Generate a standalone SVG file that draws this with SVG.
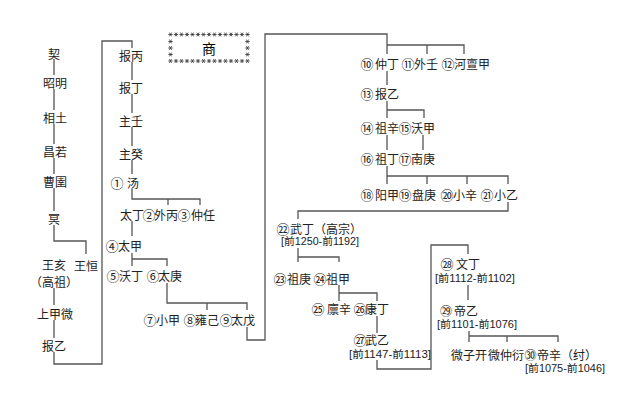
<svg xmlns="http://www.w3.org/2000/svg" width="640" height="412" viewBox="0 0 640 412">
<style>
.t{font-family:"Noto Sans CJK SC","Noto Sans CJK JP",sans-serif;font-size:12px;fill:#222;text-anchor:middle;dominant-baseline:central}
.c{font-size:13px}
.d{font-family:"Liberation Sans","Noto Sans CJK SC",sans-serif;font-size:10.5px}
.ln{fill:none;stroke:#555;stroke-width:1.3}
.ast{fill:none;stroke:#333;stroke-width:0.8}
</style>
<defs>
<path id="a" class="ast" d="M-2.2 0H2.2M-1.1 -1.9L1.1 1.9M1.1 -1.9L-1.1 1.9"/>
</defs>
<rect width="640" height="412" fill="#fff"/>
<g id="title">
<use href="#a" x="170.5" y="34.5"/><use href="#a" x="176" y="34.5"/><use href="#a" x="181.5" y="34.5"/><use href="#a" x="187" y="34.5"/><use href="#a" x="192.5" y="34.5"/><use href="#a" x="198" y="34.5"/><use href="#a" x="203.5" y="34.5"/><use href="#a" x="209" y="34.5"/><use href="#a" x="214.5" y="34.5"/><use href="#a" x="220" y="34.5"/><use href="#a" x="225.5" y="34.5"/><use href="#a" x="231" y="34.5"/><use href="#a" x="236.5" y="34.5"/><use href="#a" x="242" y="34.5"/><use href="#a" x="247.5" y="34.5"/>
<use href="#a" x="170.5" y="61"/><use href="#a" x="176" y="61"/><use href="#a" x="181.5" y="61"/><use href="#a" x="187" y="61"/><use href="#a" x="192.5" y="61"/><use href="#a" x="198" y="61"/><use href="#a" x="203.5" y="61"/><use href="#a" x="209" y="61"/><use href="#a" x="214.5" y="61"/><use href="#a" x="220" y="61"/><use href="#a" x="225.5" y="61"/><use href="#a" x="231" y="61"/><use href="#a" x="236.5" y="61"/><use href="#a" x="242" y="61"/><use href="#a" x="247.5" y="61"/>
<use href="#a" x="170.5" y="41.5"/><use href="#a" x="170.5" y="48"/><use href="#a" x="170.5" y="54.5"/>
<use href="#a" x="247.5" y="41.5"/><use href="#a" x="247.5" y="48"/><use href="#a" x="247.5" y="54.5"/>
<text class="t" x="209" y="48" style="font-size:14px;fill:#000">商</text>
</g>
<g id="connectors" class="ln">
<path d="M54 59V75M54 89V110M54 124V144M54 158V174M54 188V211M54 225V241H86V254M54 288V305M54 320V338M54 352V364H102V41H132V48"/>
<path d="M132 62V80M132 94V113M132 127V146M132 160V174M132 189V199H200V205M168 199V205M132 221V236M132 253V266M132 259H167V266M167 283V303H247V310M207 303V310M247 327V340H265V34H387V54M387 45H464V54M427 45V54"/>
<path d="M387 71V85M387 101V118M387 110H424V118M387 135V150M423 135V150M387 166V184M387 176H508V184M427 176V184M467 176V184M508 202V211H298V219M298 248V262M298 257H339V262M339 285V301M339 293H377V301M377 316V333M377 360V369H431V245H468V254M468 285V300M469 331V342M469 336H558V342M507 336V342"/>
</g>
<g id="n-qi"><text class="t" x="54" y="53">契</text></g>
<g id="n-zhaoming"><text class="t" x="55" y="82">昭明</text></g>
<g id="n-xiangtu"><text class="t" x="55" y="117">相土</text></g>
<g id="n-changruo"><text class="t" x="55" y="151">昌若</text></g>
<g id="n-caoyu"><text class="t" x="55" y="181">曹圉</text></g>
<g id="n-ming"><text class="t" x="54" y="218">冥</text></g>
<g id="n-wanghai"><text class="t"><tspan x="54" y="264">王亥</tspan><tspan x="54" y="280.5">（高祖）</tspan></text></g>
<g id="n-wangheng"><text class="t" x="86" y="265">王恒</text></g>
<g id="n-shangjiawei"><text class="t" x="55" y="313">上甲微</text></g>
<g id="n-baoyi0"><text class="t" x="54" y="345">报乙</text></g>
<g id="n-baobing"><text class="t" x="131" y="55">报丙</text></g>
<g id="n-baoding"><text class="t" x="131" y="87">报丁</text></g>
<g id="n-zhuren"><text class="t" x="131" y="120">主壬</text></g>
<g id="n-zhugui"><text class="t" x="131" y="153">主癸</text></g>
<g id="n-tang"><text class="t" y="182"><tspan class="c" x="117">①</tspan><tspan x="133">汤</tspan></text></g>
<g id="n-taiding"><text class="t" x="132" y="214">太丁</text></g>
<g id="n-waibing"><text class="t" y="214"><tspan class="c" x="149">②</tspan><tspan x="166">外丙</tspan></text></g>
<g id="n-zhongren"><text class="t" y="214"><tspan class="c" x="184">③</tspan><tspan x="203">仲任</tspan></text></g>
<g id="n-taijia"><text class="t" y="245"><tspan class="c" x="112">④</tspan><tspan x="130">太甲</tspan></text></g>
<g id="n-woding"><text class="t" y="275"><tspan class="c" x="113">⑤</tspan><tspan x="131">沃丁</tspan></text></g>
<g id="n-taigeng"><text class="t" y="275"><tspan class="c" x="153">⑥</tspan><tspan x="170">太庚</tspan></text></g>
<g id="n-xiaojia"><text class="t" y="319"><tspan class="c" x="150">⑦</tspan><tspan x="168">小甲</tspan></text></g>
<g id="n-yongji"><text class="t" y="319"><tspan class="c" x="190">⑧</tspan><tspan x="207">雍己</tspan></text></g>
<g id="n-taiwu"><text class="t" y="319"><tspan class="c" x="226">⑨</tspan><tspan x="243">太戊</tspan></text></g>
<g id="n-zhongding"><text class="t" y="63"><tspan class="c" x="367">⑩</tspan><tspan x="387">仲丁</tspan></text></g>
<g id="n-wairen"><text class="t" y="63"><tspan class="c" x="408">⑪</tspan><tspan x="426">外壬</tspan></text></g>
<g id="n-hedanjia"><text class="t" y="63"><tspan class="c" x="448">⑫</tspan><tspan x="472">河亶甲</tspan></text></g>
<g id="n-baoyi"><text class="t" y="93"><tspan class="c" x="367">⑬</tspan><tspan x="387">报乙</tspan></text></g>
<g id="n-zuxin"><text class="t" y="127"><tspan class="c" x="367">⑭</tspan><tspan x="387">祖辛</tspan></text></g>
<g id="n-wojia"><text class="t" y="127"><tspan class="c" x="405">⑮</tspan><tspan x="423">沃甲</tspan></text></g>
<g id="n-zuding"><text class="t" y="158"><tspan class="c" x="367">⑯</tspan><tspan x="387">祖丁</tspan></text></g>
<g id="n-nangeng"><text class="t" y="158"><tspan class="c" x="405">⑰</tspan><tspan x="423">南庚</tspan></text></g>
<g id="n-yangjia"><text class="t" y="194"><tspan class="c" x="367">⑱</tspan><tspan x="387">阳甲</tspan></text></g>
<g id="n-pangeng"><text class="t" y="194"><tspan class="c" x="405">⑲</tspan><tspan x="424">盘庚</tspan></text></g>
<g id="n-xiaoxin"><text class="t" y="194"><tspan class="c" x="447">⑳</tspan><tspan x="465">小辛</tspan></text></g>
<g id="n-xiaoyi"><text class="t" y="194"><tspan class="c" x="487">㉑</tspan><tspan x="506">小乙</tspan></text></g>
<g id="n-wuding"><text class="t"><tspan class="c" x="283" y="227.5">㉒</tspan><tspan x="326" y="227.5">武丁（高宗）</tspan><tspan class="d" x="320" y="241" textLength="78" lengthAdjust="spacingAndGlyphs">[前1250-前1192]</tspan></text></g>
<g id="n-zugeng"><text class="t" y="278"><tspan class="c" x="280">㉓</tspan><tspan x="299">祖庚</tspan></text></g>
<g id="n-zujia"><text class="t" y="278"><tspan class="c" x="320">㉔</tspan><tspan x="338">祖甲</tspan></text></g>
<g id="n-linxin"><text class="t" y="308"><tspan class="c" x="318">㉕</tspan><tspan x="339">廪辛</tspan></text></g>
<g id="n-kangding"><text class="t" y="308"><tspan class="c" x="360">㉖</tspan><tspan x="377">康丁</tspan></text></g>
<g id="n-wuyi"><text class="t"><tspan class="c" x="360" y="338.5">㉗</tspan><tspan x="377" y="338.5">武乙</tspan><tspan class="d" x="390" y="353.5" textLength="82" lengthAdjust="spacingAndGlyphs">[前1147-前1113]</tspan></text></g>
<g id="n-wending"><text class="t"><tspan class="c" x="447" y="263">㉘</tspan><tspan x="468" y="263">文丁</tspan><tspan class="d" x="475" y="278" textLength="80" lengthAdjust="spacingAndGlyphs">[前1112-前1102]</tspan></text></g>
<g id="n-diyi"><text class="t"><tspan x="446" y="309.5">㉙</tspan><tspan x="466" y="309.5">帝乙</tspan><tspan class="d" x="477" y="324" textLength="80" lengthAdjust="spacingAndGlyphs">[前1101-前1076]</tspan></text></g>
<g id="n-weiziqi"><text class="t" x="469" y="354">微子开</text></g>
<g id="n-weizhongyan"><text class="t" x="506" y="354">微仲衍</text></g>
<g id="n-dixin"><text class="t"><tspan x="530.5" y="353.5" style="font-size:12px">㉚</tspan><tspan x="567" y="353.5">帝辛（纣）</tspan><tspan class="d" x="565" y="367.5" textLength="80" lengthAdjust="spacingAndGlyphs">[前1075-前1046]</tspan></text></g>
</svg>
